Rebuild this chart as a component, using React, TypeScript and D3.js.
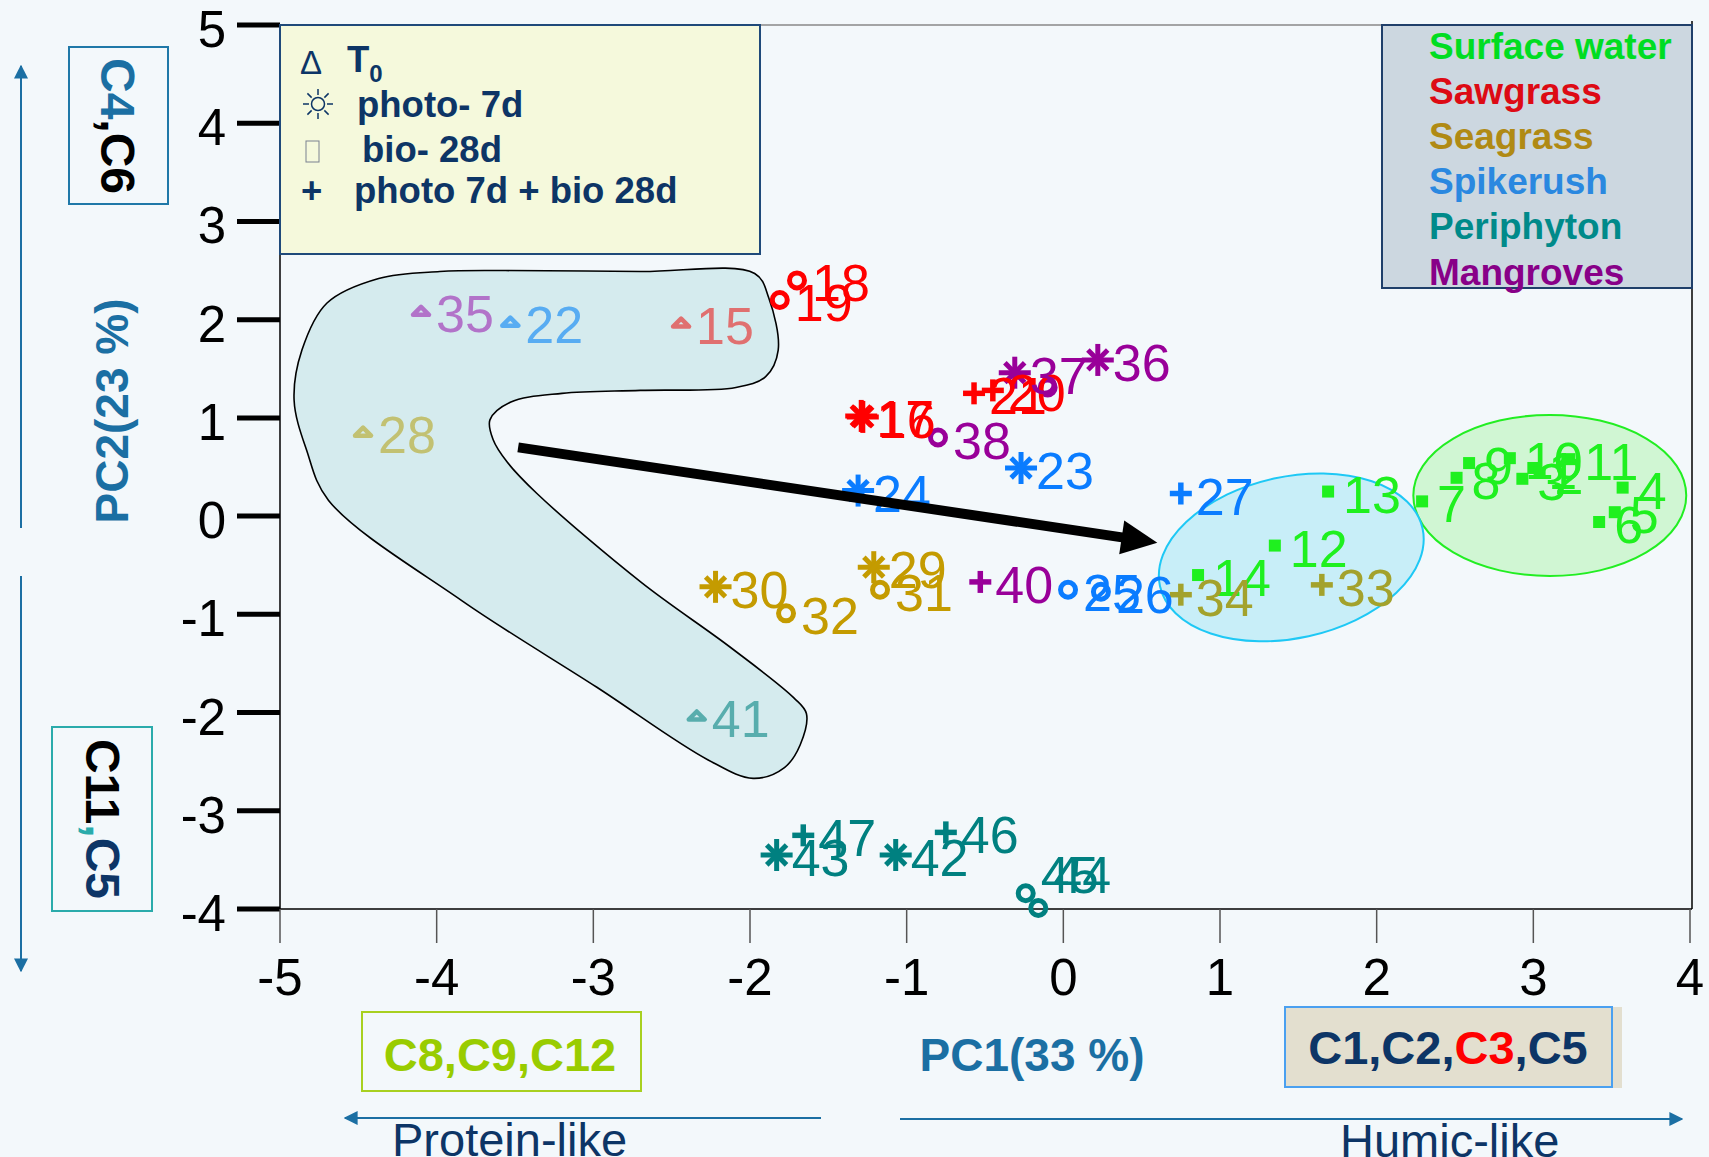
import * as d3 from 'd3'

const WIDTH = 1709
const HEIGHT = 1157
const FONT = '"Liberation Sans", Arial, sans-serif'
const NAVY = '#0d3566'
const AXIS_BLUE = '#1b6fa3'
const PLOT = { left: 280, right: 1690, top: 25, bottom: 909 }

const X_TICKS = [-5, -4, -3, -2, -1, 0, 1, 2, 3, 4]
const Y_TICKS = [-4, -3, -2, -1, 0, 1, 2, 3, 4, 5]

// groups (legend order)
const GROUP_KEYS = ['sw', 'saw', 'sea', 'spike', 'peri', 'man']
const GROUP_NAMES = ['Surface water', 'Sawgrass', 'Seagrass', 'Spikerush', 'Periphyton', 'Mangroves']

// samples 1..47
const SAMPLE_IDS = [
  '1', '2', '3', '4', '5', '6', '7', '8', '9', '10', '11', '12', '13', '14',
  '15', '16', '17', '18', '19', '20', '21',
  '22', '23', '24', '25', '26', '27',
  '28', '29', '30', '31', '32', '33', '34',
  '35', '36', '37', '38', '39', '40',
  '41', '42', '43', '44', '45', '46', '47',
]
const SAMPLE_PC1 = [
  3.0, 3.04, 2.93, 3.57, 3.52, 3.42, 2.29, 2.51, 2.59, 2.85, 3.23, 1.35, 1.69, 0.86,
  -2.44, -1.28, -1.29, -1.7, -1.81, -0.45, -0.57,
  -3.53, -0.27, -1.31, 0.03, 0.24, 0.75,
  -4.47, -1.21, -2.22, -1.17, -1.77, 1.65, 0.75,
  -4.1, 0.22, -0.31, -0.8, -0.1, -0.53,
  -2.34, -1.07, -1.83, -0.16, -0.24, -0.75, -1.66,
]
const SAMPLE_PC2 = [
  0.49, 0.44, 0.38, 0.29, 0.04, -0.06, 0.15, 0.39, 0.54, 0.59, 0.58, -0.3, 0.25, -0.6,
  1.97, 1.01, 1.02, 2.4, 2.2, 1.28, 1.25,
  1.98, 0.49, 0.26, -0.75, -0.77, 0.23,
  0.86, -0.52, -0.72, -0.75, -0.99, -0.7, -0.8,
  2.09, 1.59, 1.46, 0.8, 1.31, -0.67,
  -2.03, -3.45, -3.45, -3.99, -3.84, -3.22, -3.25,
]
const SAMPLE_GROUP = [
  'sw', 'sw', 'sw', 'sw', 'sw', 'sw', 'sw', 'sw', 'sw', 'sw', 'sw', 'sw', 'sw', 'sw',
  'saw', 'saw', 'saw', 'saw', 'saw', 'saw', 'saw',
  'spike', 'spike', 'spike', 'spike', 'spike', 'spike',
  'sea', 'sea', 'sea', 'sea', 'sea', 'sea', 'sea',
  'man', 'man', 'man', 'man', 'man', 'man',
  'peri', 'peri', 'peri', 'peri', 'peri', 'peri', 'peri',
]
// sq = surface water, t0 = T0, ph = photo 7d, bio = bio 28d, pb = photo + bio
const SAMPLE_TREATMENT = [
  'sq', 'sq', 'sq', 'sq', 'sq', 'sq', 'sq', 'sq', 'sq', 'sq', 'sq', 'sq', 'sq', 'sq',
  't0', 'ph', 'ph', 'bio', 'bio', 'pb', 'pb',
  't0', 'ph', 'ph', 'bio', 'bio', 'pb',
  't0', 'ph', 'ph', 'bio', 'bio', 'pb', 'pb',
  't0', 'ph', 'ph', 'bio', 'bio', 'pb',
  't0', 'ph', 'ph', 'bio', 'bio', 'pb', 'pb',
]

// T0 region outline (PC1, PC2)
const BLOB_PC1 = [
  -4.37, -3.98, -3.56, -2.7, -1.97, -1.88, -1.82, -1.9, -2.09, -2.7, -3.2, -3.53, -3.66, -3.64,
  -3.55, -3.36, -2.69, -2.13, -1.72, -1.64, -1.68, -1.78, -1.98, -2.27, -2.98, -3.84, -4.69,
  -4.83, -4.91, -4.86, -4.7,
]
const BLOB_PC2 = [
  2.42, 2.49, 2.5, 2.49, 2.47, 2.22, 1.69, 1.42, 1.31, 1.28, 1.25, 1.16, 0.98, 0.78,
  0.55, 0.23, -0.68, -1.33, -1.85, -2.01, -2.33, -2.56, -2.67, -2.48, -1.74, -0.86, 0.16,
  0.67, 1.18, 1.69, 2.17,
]

// cluster ellipses: center, radii (PC units), tilt in degrees
const ELLIPSE_CX = [3.105, 1.455]
const ELLIPSE_CY = [0.21, -0.42]
const ELLIPSE_RX = [0.871, 0.858]
const ELLIPSE_RY = [0.82, 0.822]
const ELLIPSE_TILT = [0, -12.4]

const TREND_FROM = [-3.48, 0.7]
const TREND_TO = [0.6, -0.27]

const LEGEND_COLORS: Record<string, string> = {
  sw: '#00dd22', saw: '#dd0a14', sea: '#b08a14', spike: '#2a88e0', peri: '#008a8a', man: '#880088',
}
const POINT_COLORS: Record<string, string> = {
  sw: '#1ff01f', saw: '#ff0000', sea: '#c49b00', spike: '#0a7cff', peri: '#008080', man: '#990099',
}
const T0_COLORS: Record<string, string> = {
  saw: '#e07070', sea: '#c2c172', spike: '#58acf2', man: '#b273c9', peri: '#58adad',
}
const SEA_PB_COLOR = '#a3a22c'
const LABEL_NUDGE: Record<string, [number, number]> = { '44': [0, -36], '45': [0, -21] }
const HIDDEN_LABELS = ['39']

const x = d3.scaleLinear().domain([-5, 4]).range([PLOT.left, PLOT.right])
const y = d3.scaleLinear().domain([-4, 5]).range([PLOT.bottom, PLOT.top])

function pointColor(i: number) {
  const g = SAMPLE_GROUP[i]
  const t = SAMPLE_TREATMENT[i]
  if (t === 't0') return T0_COLORS[g]
  if (g === 'sea' && t === 'pb') return SEA_PB_COLOR
  return POINT_COLORS[g]
}

function Marker({ type, cx, cy, color }: { type: string; cx: number; cy: number; color: string }) {
  if (type === 'sq') return <rect x={cx - 6} y={cy - 6} width={12} height={12} fill={color} />
  if (type === 'bio') return <circle cx={cx} cy={cy} r={7.5} fill="none" stroke={color} strokeWidth={5} />
  if (type === 'pb') {
    return (
      <g stroke={color} strokeWidth={5.5}>
        <line x1={cx - 11} x2={cx + 11} y1={cy} y2={cy} />
        <line x1={cx} x2={cx} y1={cy - 11} y2={cy + 11} />
      </g>
    )
  }
  if (type === 'ph') {
    const arms = [0, 45, 90, 135]
    return (
      <g stroke={color} strokeWidth={5}>
        {arms.map(a => {
          const r = a % 90 === 0 ? 16 : 14
          const dx = Math.cos((a * Math.PI) / 180) * r
          const dy = Math.sin((a * Math.PI) / 180) * r
          return <line key={a} x1={cx - dx} x2={cx + dx} y1={cy - dy} y2={cy + dy} />
        })}
      </g>
    )
  }
  // T0 triangle
  return (
    <path
      d={`M${cx - 8},${cy + 4}L${cx},${cy - 4}L${cx + 8},${cy + 4}Z`}
      fill="none"
      stroke={color}
      strokeWidth={4.5}
      strokeLinejoin="round"
    />
  )
}

export default function App() {
  const blobLine = d3
    .line<number>()
    .x(i => x(BLOB_PC1[i]))
    .y(i => y(BLOB_PC2[i]))
    .curve(d3.curveCatmullRomClosed.alpha(0.5))
  const blobPath = blobLine(BLOB_PC1.map((_, i) => i)) || ''

  const ellipseFills = ['#d0f6d3', '#c8eef8']
  const ellipseStrokes = ['#22ee22', '#1ec8f5']

  // trend arrow
  const sx = x(TREND_FROM[0]), sy = y(TREND_FROM[1])
  const tx = x(TREND_TO[0]), ty = y(TREND_TO[1])
  const len = Math.hypot(tx - sx, ty - sy)
  const ux = (tx - sx) / len, uy = (ty - sy) / len
  const headLen = 36, headHalf = 17
  const bx = tx - ux * headLen, by = ty - uy * headLen
  const head = `M${tx},${ty}L${bx - uy * headHalf},${by + ux * headHalf}L${bx + uy * headHalf},${by - ux * headHalf}Z`

  const legendRowsY = [59, 104, 149, 194, 239, 285]

  return (
    <svg
      width={WIDTH}
      height={HEIGHT}
      style={{ position: 'absolute', left: 0, top: 0, fontFamily: FONT }}
    >
      <defs>
        <marker id="ah" viewBox="0 0 10 10" refX="9" refY="5" markerWidth="7" markerHeight="7" orient="auto-start-reverse" markerUnits="strokeWidth">
          <path d="M0,0L10,5L0,10Z" fill={AXIS_BLUE} />
        </marker>
      </defs>
      <rect width={WIDTH} height={HEIGHT} fill="#f3f8fb" />

      {/* T0 region */}
      <path d={blobPath} fill="#d5ebee" stroke="#000" strokeWidth={1.6} />

      {/* cluster ellipses */}
      {ELLIPSE_CX.map((cx, i) => {
        const px = x(cx), py = y(ELLIPSE_CY[i])
        const rx = x(cx + ELLIPSE_RX[i]) - px
        const ry = py - y(ELLIPSE_CY[i] + ELLIPSE_RY[i])
        return (
          <ellipse
            key={i}
            cx={px}
            cy={py}
            rx={rx}
            ry={ry}
            transform={`rotate(${ELLIPSE_TILT[i]},${px},${py})`}
            fill={ellipseFills[i]}
            stroke={ellipseStrokes[i]}
            strokeWidth={2}
          />
        )
      })}

      {/* frame */}
      <line x1={PLOT.left} x2={PLOT.right + 2} y1={PLOT.top} y2={PLOT.top} stroke="#888" strokeWidth={1.5} />
      <line x1={PLOT.right + 2} x2={PLOT.right + 2} y1={PLOT.top - 4} y2={PLOT.bottom} stroke="#000" strokeWidth={1.5} />
      <line x1={PLOT.left} x2={PLOT.left} y1={PLOT.top} y2={PLOT.bottom} stroke="#000" strokeWidth={1.5} />
      <line x1={PLOT.left} x2={PLOT.right + 2} y1={PLOT.bottom} y2={PLOT.bottom} stroke="#000" strokeWidth={1.5} />

      {/* y axis */}
      {Y_TICKS.map(t => (
        <g key={`y${t}`}>
          <line x1={237} x2={PLOT.left} y1={y(t)} y2={y(t)} stroke="#000" strokeWidth={5} />
          <text x={226} y={y(t) + 22} textAnchor="end" fontSize={51} fill="#000">
            {t}
          </text>
        </g>
      ))}

      {/* x axis */}
      {X_TICKS.map(t => (
        <g key={`x${t}`}>
          <line x1={x(t)} x2={x(t)} y1={PLOT.bottom} y2={PLOT.bottom + 34} stroke="#555" strokeWidth={1.5} />
          <text x={x(t)} y={995} textAnchor="middle" fontSize={51} fill="#000">
            {t}
          </text>
        </g>
      ))}

      {/* treatment legend */}
      <rect x={280} y={25} width={480} height={229} fill="#f5f9dc" stroke="#1f4a7a" strokeWidth={2} />
      <g fill={NAVY} fontWeight="bold" fontSize={36.5}>
        <text x={300} y={74} fontWeight="normal" fontSize={33}>Δ</text>
        <text x={347} y={72}>
          T<tspan fontSize={24} dy={10}>0</tspan>
        </text>
        <g stroke={NAVY} strokeWidth={1.5}>
          <circle cx={318} cy={104} r={6.5} fill="none" />
          {[0, 45, 90, 135, 180, 225, 270, 315].map(a => {
            const c = Math.cos((a * Math.PI) / 180), s = Math.sin((a * Math.PI) / 180)
            return <line key={a} x1={318 + c * 9} y1={104 + s * 9} x2={318 + c * 15} y2={104 + s * 15} />
          })}
        </g>
        <text x={357} y={117}>photo- 7d</text>
        <rect x={306} y={141} width={13} height={21} fill="none" stroke="#7a8190" strokeWidth={1} />
        <text x={362} y={162}>bio- 28d</text>
        <text x={301} y={203}>+</text>
        <text x={354} y={203}>photo 7d + bio 28d</text>
      </g>

      {/* source legend */}
      <rect x={1382} y={25} width={310} height={263} fill="#ccd7e0" stroke="#1f3f6a" strokeWidth={2} />
      {GROUP_KEYS.map((g, i) => (
        <text key={g} x={1429} y={legendRowsY[i]} fontSize={37} fontWeight="bold" fill={LEGEND_COLORS[g]}>
          {GROUP_NAMES[i]}
        </text>
      ))}

      {/* samples */}
      {SAMPLE_IDS.map((id, i) => (
        <Marker
          key={`m${id}`}
          type={SAMPLE_TREATMENT[i]}
          cx={x(SAMPLE_PC1[i])}
          cy={y(SAMPLE_PC2[i])}
          color={pointColor(i)}
        />
      ))}
      {SAMPLE_IDS.map((id, i) => {
        if (HIDDEN_LABELS.includes(id)) return null
        const nudge = LABEL_NUDGE[id] || [0, 0]
        return (
          <text
            key={`l${id}`}
            x={x(SAMPLE_PC1[i]) + 15 + nudge[0]}
            y={y(SAMPLE_PC2[i]) + 21 + nudge[1]}
            fontSize={52}
            fill={pointColor(i)}
          >
            {id}
          </text>
        )
      })}

      {/* trend arrow */}
      <line x1={sx} y1={sy} x2={bx + ux * 2} y2={by + uy * 2} stroke="#000" strokeWidth={10} />
      <path d={head} fill="#000" />

      {/* PC2 side annotations */}
      <line x1={21} x2={21} y1={528} y2={66} stroke={AXIS_BLUE} strokeWidth={2} markerEnd="url(#ah)" />
      <line x1={21} x2={21} y1={576} y2={971} stroke={AXIS_BLUE} strokeWidth={2} markerEnd="url(#ah)" />
      <rect x={69} y={47} width={99} height={157} fill="none" stroke="#1f78a8" strokeWidth={2} />
      <text transform="translate(101,126) rotate(90)" textAnchor="middle" fontSize={48} fontWeight="bold">
        <tspan fill={AXIS_BLUE}>C4</tspan>
        <tspan fill="#000">,C6</tspan>
      </text>
      <text transform="translate(128,411) rotate(-90)" textAnchor="middle" fontSize={46} fontWeight="bold" fill={AXIS_BLUE}>
        PC2(23 %)
      </text>
      <rect x={52} y={727} width={100} height={184} fill="none" stroke="#2aabab" strokeWidth={2} />
      <text transform="translate(86,819) rotate(90)" textAnchor="middle" fontSize={48} fontWeight="bold">
        <tspan fill="#000">C11</tspan>
        <tspan fill="#2aabab">,</tspan>
        <tspan fill={NAVY}>C5</tspan>
      </text>

      {/* PC1 bottom annotations */}
      <rect x={362} y={1012} width={279} height={79} fill="none" stroke="#a8d020" strokeWidth={2} />
      <text x={500} y={1071} textAnchor="middle" fontSize={47} fontWeight="bold" fill="#99cc00">
        C8,C9,C12
      </text>
      <text x={1032} y={1071} textAnchor="middle" fontSize={46} fontWeight="bold" fill={AXIS_BLUE}>
        PC1(33 %)
      </text>
      <rect x={1285} y={1007} width={337} height={81} fill="#e3dfcf" />
      <rect x={1285} y={1007} width={327} height={80} fill="none" stroke="#4aa0f0" strokeWidth={2} />
      <text x={1448} y={1064} textAnchor="middle" fontSize={47} fontWeight="bold" fill={NAVY}>
        C1,C2,<tspan fill="#ff0000">C3</tspan>,C5
      </text>
      <line x1={821} x2={345} y1={1118} y2={1118} stroke={AXIS_BLUE} strokeWidth={2} markerEnd="url(#ah)" />
      <line x1={900} x2={1682} y1={1119} y2={1119} stroke={AXIS_BLUE} strokeWidth={2} markerEnd="url(#ah)" />
      <text x={392} y={1156} fontSize={47} fill={NAVY}>Protein-like</text>
      <text x={1340} y={1157} fontSize={47} fill={NAVY}>Humic-like</text>
    </svg>
  )
}
